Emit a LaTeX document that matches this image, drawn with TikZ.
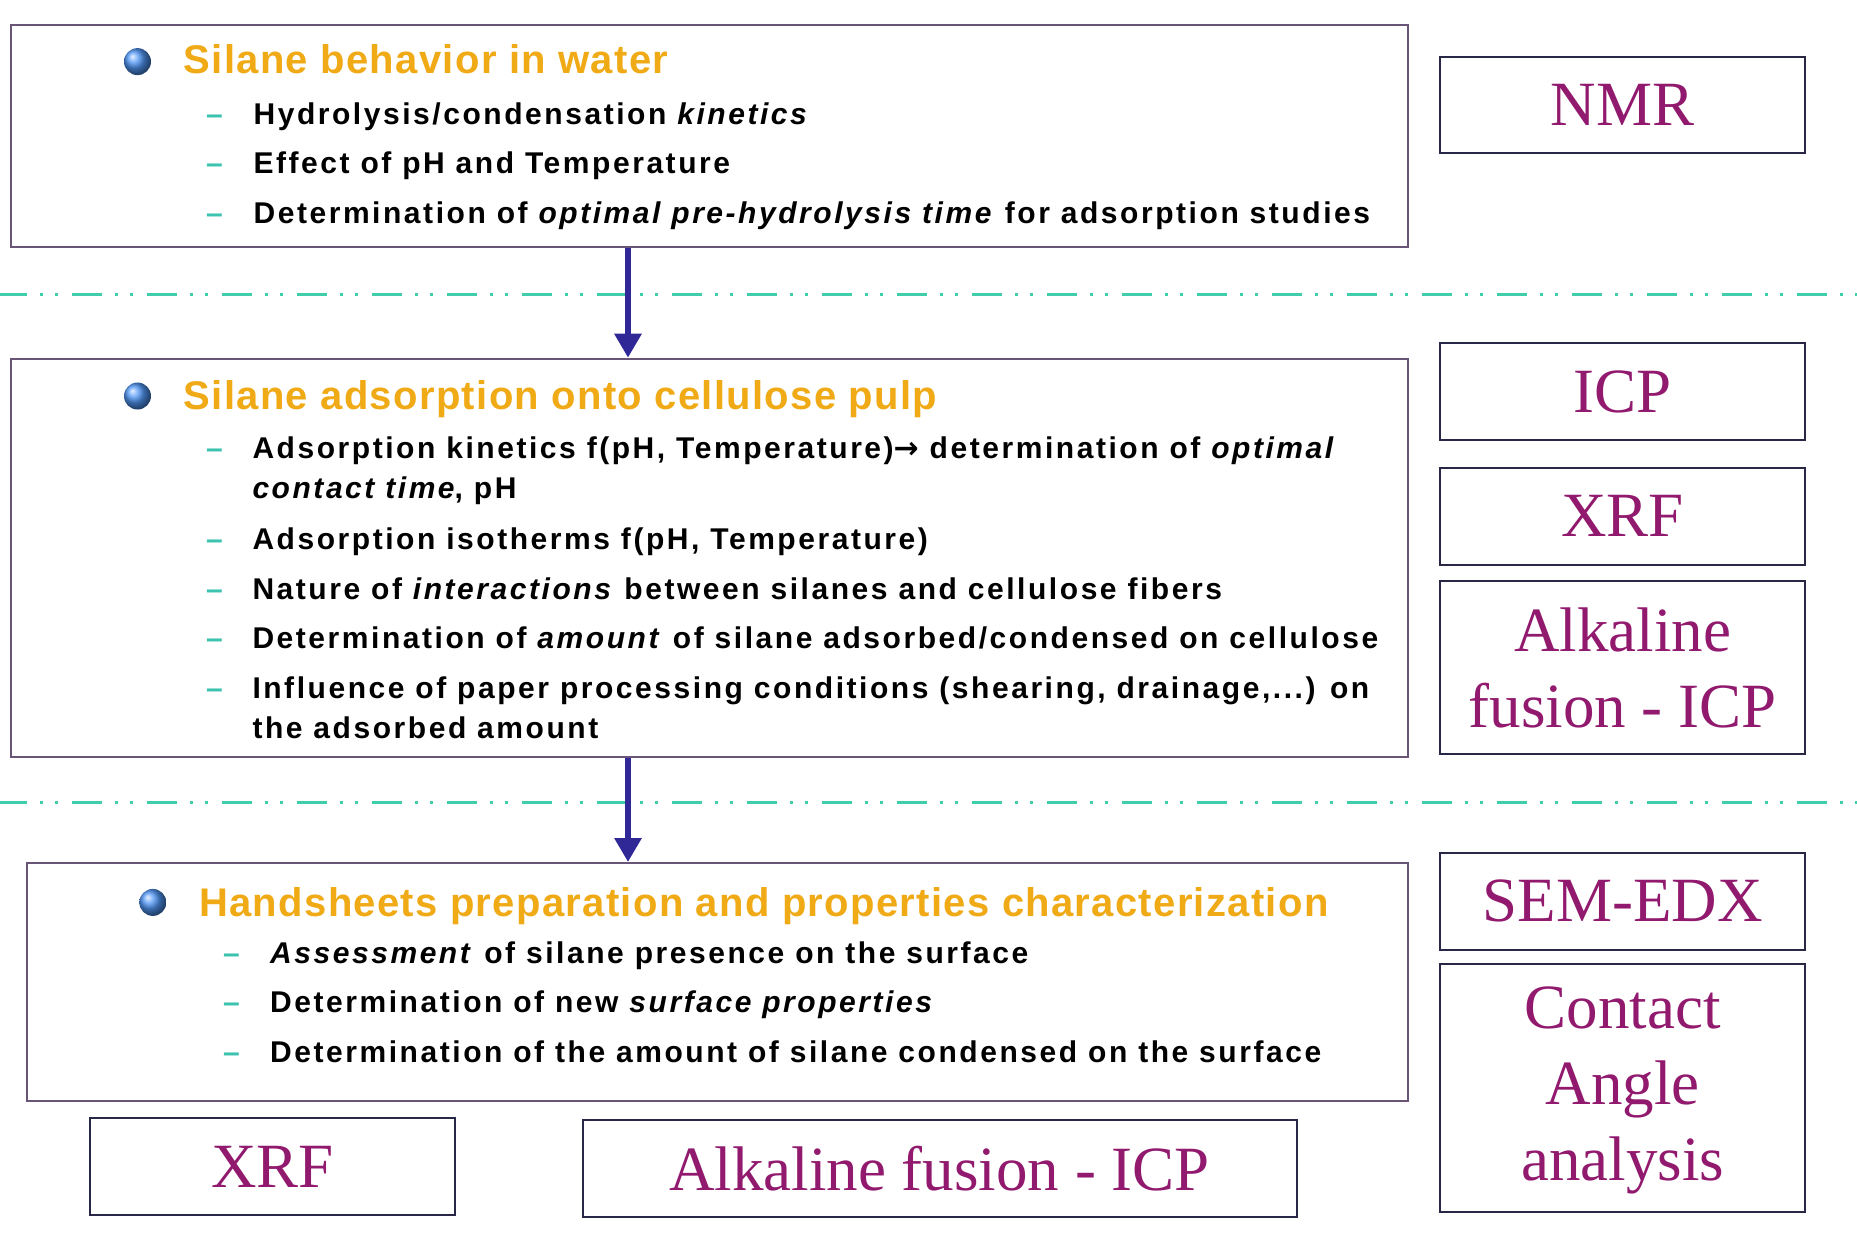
\documentclass[tikz,border=0pt]{standalone}
\usepackage{fontspec}
\setmainfont{Liberation Serif}
\newfontfamily\bodyf[LetterSpace=8.5]{Liberation Sans}
\newfontfamily\headf[LetterSpace=3.3]{Liberation Sans}
\newfontfamily\arrowf{DejaVu Sans}
\usetikzlibrary{arrows.meta}
\definecolor{boxc}{RGB}{105,85,120}
\definecolor{techborder}{RGB}{40,40,70}
\definecolor{techc}{RGB}{145,25,110}
\definecolor{headc}{RGB}{240,170,22}
\definecolor{dashc}{RGB}{60,195,175}
\definecolor{sepc}{RGB}{64,206,170}
\definecolor{arrc}{RGB}{48,40,150}
\definecolor{bulletc}{RGB}{80,150,245}
\tikzset{
  cbox/.style={draw=boxc, line width=2pt, fill=white, inner sep=0pt, anchor=north west},
  tbox/.style={draw=techborder, line width=2.2pt, fill=white, inner sep=0pt, anchor=north west},
  tlabel/.style={text=techc, font=\fontsize{63}{76}\selectfont, align=center, inner sep=0pt},
  head/.style={anchor=base west, text=headc, font=\headf\bfseries\fontsize{40}{48}\selectfont, inner sep=0pt},
  itemtext/.style={anchor=base west, text=black, font=\bodyf\bfseries\fontsize{30}{36}\selectfont, inner sep=0pt},
  itemdash/.style={anchor=base west, text=dashc, font=\bodyf\bfseries\fontsize{30}{36}\selectfont, inner sep=0pt},
  sepline/.style={draw=sepc, line width=3pt, dash pattern=on 30pt off 13.5pt on 3pt off 12pt on 3pt off 13.5pt},
  flowarrow/.style={draw=arrc, line width=6pt, -{Triangle[width=26pt,length=24pt]}},
  bulletball/.style={circle, minimum size=27pt, inner sep=0pt, shade, ball color=bulletc}
}
\begin{document}
\begin{tikzpicture}[x=1pt,y=-1pt]
\useasboundingbox (0,0) rectangle (1857,1243);
\fill[white] (0,0) rectangle (1857,1243);

% separators
\coordinate (s1a) at (-3.3,294);
\coordinate (s1b) at (1860,294);
\coordinate (s2a) at (-3.3,802);
\coordinate (s2b) at (1860,802);
\draw[sepline] (s1a) -- (s1b);
\draw[sepline] (s2a) -- (s2b);

% content boxes
\node[cbox, minimum width=1397.5pt, minimum height=222.3pt] (box1) at (9.5,23.7) {};
\node[cbox, minimum width=1397.5pt, minimum height=397.9pt] (box2) at (9.5,357.7) {};
\node[cbox, minimum width=1381pt, minimum height=238pt] (box3) at (26,862) {};

% arrows
\coordinate (ax) at (628,0);
\draw[flowarrow] (box1.south -| ax) -- (box2.north -| ax);
\draw[flowarrow] (box2.south -| ax) -- (box3.north -| ax);

% box 1
\node[bulletball] (bl1) at (137.5,61.6) {};
\node[head] (h1) at (183.6,73.5) {Silane behavior in water};
\node[itemdash] (d11) at (206,124) {–};
\node[itemtext] (t11) at (253.4,124) {Hydrolysis/condensation \textit{kinetics}};
\node[itemdash] (d12) at (206,173.6) {–};
\node[itemtext] (t12) at (253.4,173.6) {Effect of pH and Temperature};
\node[itemdash] (d13) at (206,223.4) {–};
\node[itemtext] (t13) at (253.4,223.4) {Determination of \textit{optimal pre-hydrolysis time} for adsorption studies};

% box 2
\node[bulletball] (bl2) at (137.5,396) {};
\node[head] (h2) at (183.6,409) {Silane adsorption onto cellulose pulp};
\node[itemdash] (d21) at (206,458) {–};
\node[itemtext] (t21) at (252.3,458) {Adsorption kinetics f(pH, Temperature){\arrowf\bfseries →} determination of \textit{optimal}};
\node[itemtext] (t21b) at (252.3,498) {\textit{contact time}, pH};
\node[itemdash] (d22) at (206,549) {–};
\node[itemtext] (t22) at (252.3,549) {Adsorption isotherms f(pH, Temperature)};
\node[itemdash] (d23) at (206,599) {–};
\node[itemtext] (t23) at (252.3,599) {Nature of \textit{interactions} between silanes and cellulose fibers};
\node[itemdash] (d24) at (206,648.5) {–};
\node[itemtext] (t24) at (252.3,648.5) {Determination of \textit{amount} of silane adsorbed/condensed on cellulose};
\node[itemdash] (d25) at (206,698) {–};
\node[itemtext] (t25) at (252.3,698) {Influence of paper processing conditions (shearing, drainage,...) on};
\node[itemtext] (t25b) at (252.3,738.5) {the adsorbed amount};

% box 3
\node[bulletball] (bl3) at (152.8,902.4) {};
\node[head] (h3) at (199,916) {Handsheets preparation and properties characterization};
\node[itemdash] (d31) at (223,963.6) {–};
\node[itemtext] (t31) at (270,963.6) {\textit{Assessment} of silane presence on the surface};
\node[itemdash] (d32) at (223,1012) {–};
\node[itemtext] (t32) at (270,1012) {Determination of new \textit{surface properties}};
\node[itemdash] (d33) at (223,1062) {–};
\node[itemtext] (t33) at (270,1062) {Determination of the amount of silane condensed on the surface};

% technique boxes (right column)
\node[tbox, minimum width=365pt, minimum height=96pt] (nmr) at (1439,55.7) {};
\node[tlabel] at (nmr.center) {NMR};
\node[tbox, minimum width=365pt, minimum height=97pt] (icp) at (1439,342) {};
\node[tlabel] at (icp.center) {ICP};
\node[tbox, minimum width=365pt, minimum height=97pt] (xrf1) at (1439,466.6) {};
\node[tlabel] at (xrf1.center) {XRF};
\node[tbox, minimum width=365pt, minimum height=173pt] (alk1) at (1439,580) {};
\node[tlabel] at (alk1.center) {Alkaline\\fusion - ICP};
\node[tbox, minimum width=365pt, minimum height=97pt] (sem) at (1439,851.5) {};
\node[tlabel] at (sem.center) {SEM-EDX};
\node[tbox, minimum width=365pt, minimum height=248pt] (cont) at (1439,963) {};
\node[tlabel] at ([yshift=-2pt]cont.center) {Contact\\Angle\\analysis};

% technique boxes (bottom row)
\node[tbox, minimum width=365pt, minimum height=97pt] (xrf2) at (88.8,1116.8) {};
\node[tlabel] at (xrf2.center) {XRF};
\node[tbox, minimum width=714pt, minimum height=97pt] (alk2) at (581.5,1119) {};
\node[tlabel] at (alk2.center) {Alkaline fusion - ICP};
\end{tikzpicture}
\end{document}
